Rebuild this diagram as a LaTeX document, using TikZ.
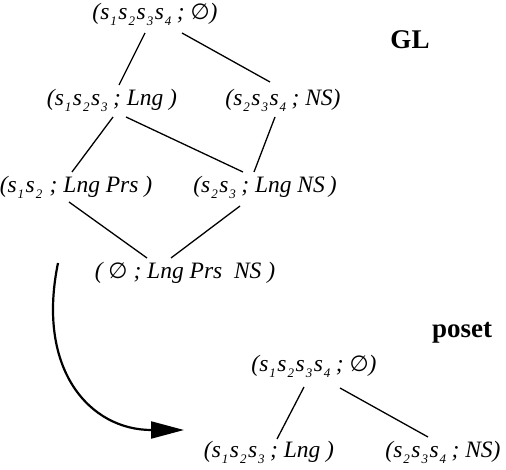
\documentclass[tikz,border=0pt]{standalone}
\usepackage{fontspec}
\setmainfont{Liberation Serif}
\newfontfamily\djv{DejaVu Sans}
\usetikzlibrary{arrows.meta}
\newcommand\sx[1]{s\kern1pt\raisebox{-6pt}{\fontsize{13}{13}\selectfont #1}\kern1.5pt}
\newcommand\emp{{\djv\fontsize{22}{26}\selectfont ∅}}
\begin{document}
\begin{tikzpicture}[x=1pt,y=-1pt,
  every node/.style={inner sep=0pt},
  st/.style={font=\fontsize{23.5}{28}\selectfont\itshape},
  ttl/.style={font=\fontsize{27}{30}\selectfont\bfseries},
  edge/.style={line width=1.3pt}]
\useasboundingbox (0,0) rectangle (506,470);
% GL lattice
\node[st] (t)  at (155,14)  {(\sx1\sx2\sx3\sx4\,; \emp)};
\node[st] (a)  at (112,100) {(\sx1\sx2\sx3\,; Lng\ )};
\node[st] (b)  at (283,100) {(\sx2\sx3\sx4\,; NS)};
\node[st] (c)  at (76,187)  {(\sx1\sx2\ ; Lng Prs\ )};
\node[st] (d)  at (265,187) {(\sx2\sx3\,; Lng NS\,)};
\node[st] (e)  at (185,273) {(\ \emp\ ; Lng Prs\ \ NS\ )};
\node[ttl] (gl) at (410,40) {GL};
\draw[edge] ([shift={(-10,19)}]t.center) -- ([shift={(7,-15)}]a.center);
\draw[edge] ([shift={(27,19)}]t.center) -- ([shift={(-13,-18)}]b.center);
\draw[edge] ([shift={(1,17)}]a.center) -- ([shift={(-4,-15)}]c.center);
\draw[edge] ([shift={(14,17)}]a.center) -- ([shift={(-22,-15)}]d.center);
\draw[edge] ([shift={(-8,17)}]b.center) -- ([shift={(-11,-15)}]d.center);
\draw[edge] ([shift={(-7,15)}]c.center) -- ([shift={(-38,-15)}]e.center);
\draw[edge] ([shift={(-25,19)}]d.center) -- ([shift={(-14,-15)}]e.center);
% poset
\node[ttl] (po) at (462,333) {poset};
\node[st] (p)  at (314,366) {(\sx1\sx2\sx3\sx4\,; \emp)};
\node[st] (pa) at (269,452) {(\sx1\sx2\sx3\,; Lng\ )};
\node[st] (pb) at (443,452) {(\sx2\sx3\sx4\,; NS)};
\draw[edge] ([shift={(-10,21)}]p.center) -- ([shift={(8,-13)}]pa.center);
\draw[edge] ([shift={(26,22)}]p.center) -- ([shift={(-15,-15)}]pb.center);
% arrow
\coordinate (as) at (58,263);
\coordinate (ae) at (184,430);
\draw[line width=2.2pt,-{Triangle[length=33pt,width=17pt]}] (as) .. controls (36,370) and (90,430) .. (ae);
\end{tikzpicture}
\end{document}
